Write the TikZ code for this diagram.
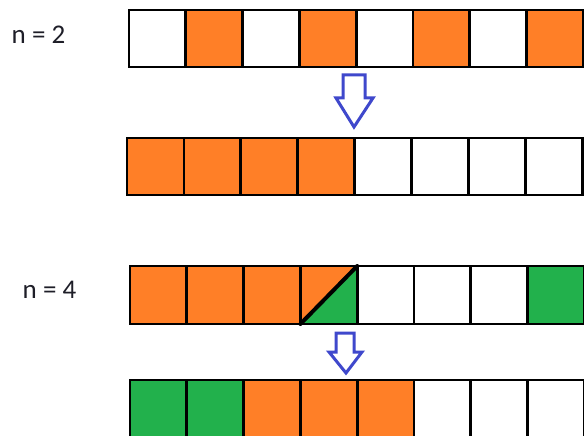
\documentclass[tikz,border=0pt]{standalone}
\usepackage{fontspec}
\setmainfont{Carlito}
\definecolor{ornge}{RGB}{255,127,39}
\definecolor{grn}{RGB}{34,177,76}
\definecolor{arrblue}{RGB}{63,72,204}
\definecolor{txt}{RGB}{30,30,40}
\tikzset{
  cellbox/.style={draw=black, line width=2.8pt},
  bigarrow/.style={draw=arrblue, line width=3pt, fill=white, line join=miter},
  lbl/.style={font=\fontsize{27}{30}\selectfont, text=txt, inner sep=0pt}
}
\begin{document}
\begin{tikzpicture}[x=1pt,y=-1pt]
\useasboundingbox (0,0) rectangle (584,436);
\clip (0,0) rectangle (584,436);
\fill[white] (0,0) rectangle (584,436);
% row 1
\foreach \c [count=\i from 0] in {white,ornge,white,ornge,white,ornge,white,ornge}{
  \draw[cellbox, fill=\c] ({129+56.8*\i},10) rectangle ({129+56.8*(\i+1)},67);
}
% row 2
\foreach \c [count=\i from 0] in {ornge,ornge,ornge,ornge,white,white,white,white}{
  \draw[cellbox, fill=\c] ({127+56.9*\i},138) rectangle ({127+56.9*(\i+1)},195);
}
% row 3
\foreach \c [count=\i from 0] in {ornge,ornge,ornge,ornge,white,white,white,grn}{
  \draw[cellbox, fill=\c] ({130+56.8*\i},266) rectangle ({130+56.8*(\i+1)},324);
}
\fill[grn] (300.4,324) -- (357.2,266) -- (357.2,324) -- cycle;
\draw[cellbox] (300.4,266) rectangle (357.2,324);
\draw[black, line width=4pt, line cap=round] (300.4,324) -- (357.2,266);
% row 4
\foreach \c [count=\i from 0] in {grn,grn,ornge,ornge,ornge,white,white,white}{
  \draw[cellbox, fill=\c] ({130+56.8*\i},380) rectangle ({130+56.8*(\i+1)},440);
}
% arrows
\draw[bigarrow] (343,75) -- (365,75) -- (365,98) -- (373,98) -- (354,127) -- (336,98) -- (343,98) -- cycle;
\draw[bigarrow] (336,333) -- (354,333) -- (354,352) -- (362,352) -- (346,373) -- (329,352) -- (336,352) -- cycle;
% labels
\node[lbl] (l2) at (38.5,35) {n = 2};
\node[lbl] (l4) at (49.5,290) {n = 4};
\end{tikzpicture}
\end{document}
